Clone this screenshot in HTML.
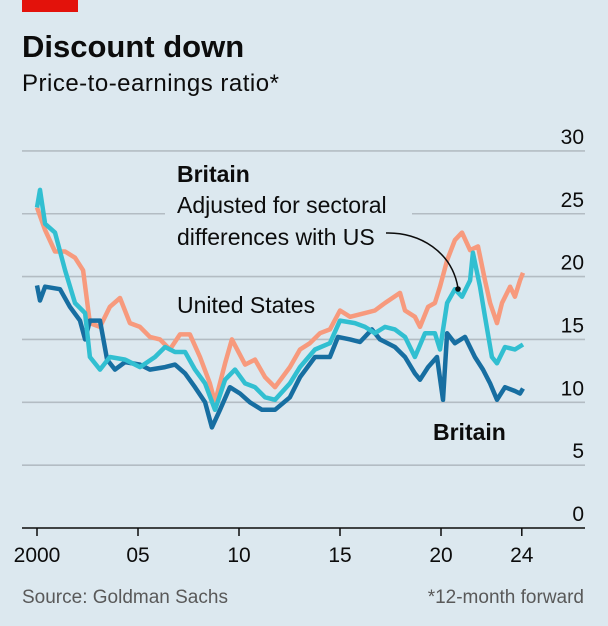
<!DOCTYPE html>
<html><head><meta charset="utf-8"><style>
html,body{margin:0;padding:0;background:#dce8ef;}
svg{display:block;font-family:"Liberation Sans",sans-serif;}
</style></head><body>
<svg width="608" height="626" viewBox="0 0 608 626">
<rect x="0" y="0" width="608" height="626" fill="#dce8ef"/>
<rect x="22" y="0" width="56" height="12" fill="#e3120b"/>
<text x="22" y="57" font-size="31" font-weight="bold" fill="#0c0c0c">Discount down</text>
<text x="22" y="91" font-size="24" letter-spacing="0.5" fill="#0c0c0c">Price-to-earnings ratio*</text>
<g id="grid"></g>
<g id="series"></g>
<g id="xaxis"></g>
<rect x="165" y="190" width="247" height="62" fill="#dce8ef"/>
<text x="177" y="182" font-size="23" font-weight="bold" fill="#0c0c0c">Britain</text>
<text x="177" y="213" font-size="23" fill="#0c0c0c">Adjusted for sectoral</text>
<text x="177" y="245" font-size="23" fill="#0c0c0c">differences with US</text>
<path d="M386 233 C420 232 452 252 458 288" fill="none" stroke="#0c0c0c" stroke-width="1.5"/>
<circle cx="458" cy="289" r="2.8" fill="#0c0c0c"/>
<text x="177" y="313" font-size="23" fill="#0c0c0c">United States</text>
<text x="433" y="440" font-size="23" font-weight="bold" fill="#0c0c0c">Britain</text>
<text x="22" y="603" font-size="19" fill="#595959">Source: Goldman Sachs</text>
<text x="584" y="603" font-size="19" fill="#595959" text-anchor="end">*12-month forward</text>
</svg>
<script>
const yTicks=[0,5,10,15,20,25,30];
const xTickYears=[2000,2005,2010,2015,2020,2024];
const xTickLabels=["2000","05","10","15","20","24"];
const usYears=[0,0.4,0.89,1.39,1.88,2.28,2.62,3.12,3.61,4.11,4.6,5.1,5.59,6.09,6.58,7.08,7.57,8.07,8.56,8.81,9.31,9.65,10.3,10.79,11.29,11.78,12.52,13.02,13.51,14.01,14.5,15,15.5,16.24,16.73,17.23,17.97,18.22,18.71,18.96,19.36,19.7,19.95,20.3,20.69,21.04,21.44,21.83,22.18,22.43,22.77,23.02,23.42,23.66,23.91,24.06];
const usValues=[25.5,23.7,22,22,21.5,20.5,16.3,16,17.6,18.3,16.3,16,15.2,15,14.2,15.4,15.4,13.6,11.5,10,13.1,15,13,13.4,12,11.2,12.8,14.2,14.7,15.5,15.8,17.3,16.8,17.1,17.3,17.9,18.7,17.3,16.8,16,17.6,17.9,19.2,21.3,22.9,23.5,22.1,22.4,19.7,17.9,16.3,17.9,19.2,18.4,19.7,20.3];
const adjYears=[0,0.15,0.4,0.89,1.39,1.88,2.38,2.62,3.12,3.61,4.36,5.1,5.84,6.34,6.83,7.33,7.82,8.32,8.81,9.31,9.8,10.3,10.79,11.29,11.78,12.52,13.02,13.76,14.5,15,15.74,16.24,16.73,17.23,17.72,18.22,18.71,19.21,19.7,19.95,20.3,20.69,21.04,21.44,21.58,21.93,22.18,22.52,22.77,23.17,23.66,24.06];
const adjValues=[25.5,26.9,24.2,23.5,20.5,17.9,17.1,13.6,12.6,13.6,13.4,12.8,13.6,14.4,14,14,12.6,11.5,9.4,11.8,12.6,11.5,11.2,10.4,10.2,11.5,12.8,14.2,14.7,16.5,16.3,16,15.5,16,15.8,15.2,13.6,15.5,15.5,14.2,17.9,19,18.4,19.7,21.9,19.2,16.8,13.6,13.1,14.4,14.2,14.6];
const ukYears=[0,0.15,0.4,1.14,1.63,2.13,2.38,2.62,3.12,3.47,3.86,4.36,5.1,5.59,6.34,6.83,7.33,7.82,8.32,8.66,9.06,9.55,10.05,10.54,11.14,11.78,12.52,13.02,13.76,14.5,14.9,15.5,15.99,16.58,16.98,17.72,18.22,18.71,18.96,19.36,19.8,20.1,20.3,20.69,21.19,21.68,22.08,22.43,22.77,23.17,23.66,23.91,24.06];
const ukValues=[19.3,18.1,19.2,19,17.6,16.5,15,16.5,16.5,13.4,12.6,13.2,13,12.6,12.8,13,12.3,11.2,10,8,9.4,11.2,10.7,10,9.4,9.4,10.4,12,13.6,13.6,15.2,15,14.8,15.8,15,14.4,13.6,12.3,11.8,12.8,13.6,10.2,15.5,14.7,15.2,13.6,12.6,11.5,10.2,11.2,10.9,10.7,11.1];
const NS="http://www.w3.org/2000/svg";
const X=yr=>37+yr*20.2;
const Xy=year=>X(year-2000);
const Y=v=>528-v*12.57;
const grid=document.getElementById('grid');
yTicks.forEach(t=>{
  if(t>0){
    const l=document.createElementNS(NS,'line');
    l.setAttribute('x1',22);l.setAttribute('x2',585);
    l.setAttribute('y1',Y(t));l.setAttribute('y2',Y(t));
    l.setAttribute('stroke','#b3bcc3');l.setAttribute('stroke-width','1.6');
    
    
    grid.appendChild(l);
  }
  const tx=document.createElementNS(NS,'text');
  tx.setAttribute('x',584);tx.setAttribute('y',Y(t)-7);
  tx.setAttribute('text-anchor','end');tx.setAttribute('font-size','21');tx.setAttribute('fill','#0c0c0c');
  tx.textContent=t;
  
  
  grid.appendChild(tx);
});
const ser=document.getElementById('series');
function line(xs,vs,color,name){
  const p=document.createElementNS(NS,'path');
  p.setAttribute('d',xs.map((x,i)=>(i?'L':'M')+X(x).toFixed(1)+' '+Y(vs[i]).toFixed(1)).join(' '));
  p.setAttribute('fill','none');p.setAttribute('stroke',color);p.setAttribute('stroke-width','4.5');
  p.setAttribute('stroke-linejoin','round');
  
  
  ser.appendChild(p);
}
line(usYears,usValues,'#f79a7d','us-line');
line(ukYears,ukValues,'#176ea1','britain-line');
line(adjYears,adjValues,'#31bfd1','britain-adjusted-line');
const xa=document.getElementById('xaxis');
const base=document.createElementNS(NS,'line');
base.setAttribute('x1',22);base.setAttribute('x2',585);base.setAttribute('y1',528);base.setAttribute('y2',528);
base.setAttribute('stroke','#0c0c0c');base.setAttribute('stroke-width','1.5');


xa.appendChild(base);
xTickYears.forEach((yr,i)=>{
  const t=document.createElementNS(NS,'line');
  t.setAttribute('x1',Xy(yr));t.setAttribute('x2',Xy(yr));t.setAttribute('y1',528);t.setAttribute('y2',536);
  t.setAttribute('stroke','#0c0c0c');t.setAttribute('stroke-width','1.5');
  
  
  xa.appendChild(t);
  const tx=document.createElementNS(NS,'text');
  tx.setAttribute('x',Xy(yr));tx.setAttribute('y',562);tx.setAttribute('text-anchor','middle');
  tx.setAttribute('font-size','21');tx.setAttribute('fill','#0c0c0c');
  tx.textContent=xTickLabels[i];
  
  
  xa.appendChild(tx);
});
</script>
</body></html>
